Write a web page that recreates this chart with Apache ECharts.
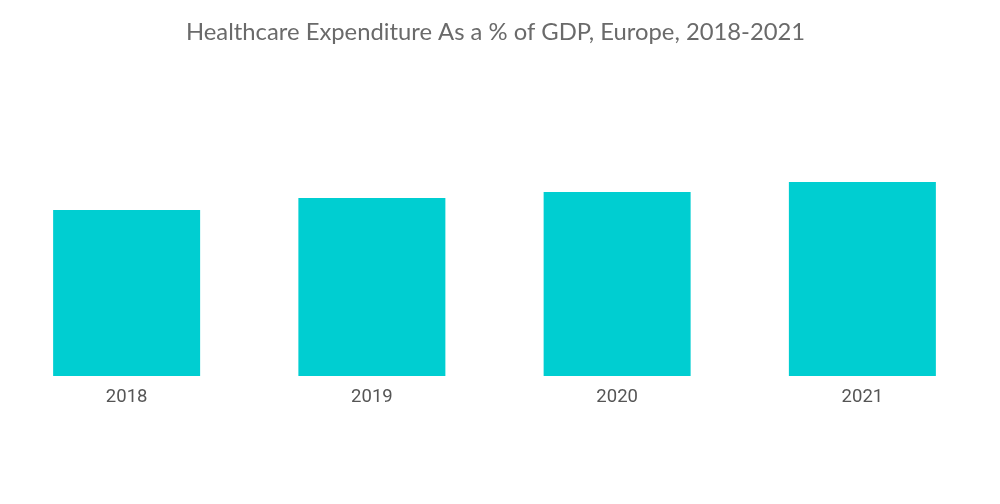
<!DOCTYPE html>
<html lang="en">
<head>
    <meta charset="UTF-8">
    <title>Healthcare Expenditure</title>
    <style>
        html, body { margin: 0; padding: 0; background: #fff; }
        #main { width: 1000px; height: 504px; }
    </style>
</head>
<body>
<div id="main"></div>
<script src="https://cdn.jsdelivr.net/npm/echarts@6/dist/echarts.min.js"></script>
<script>
    // data (values in % of GDP, estimated)
    var years = ['2018', '2019', '2020', '2021'];
    var spend = [8.3, 8.9, 9.2, 9.7];

    var chart = echarts.init(document.getElementById('main'));
    chart.setOption({
        title: {
            text: 'Healthcare Expenditure As a % of GDP, Europe, 2018-2021',
            left: 181,
            top: 15,
            textStyle: { fontFamily: 'Lato', fontWeight: 'normal', fontSize: 23.8, color: '#6a6a6a' }
        },
        grid: { left: 4, right: 15, top: 136, bottom: 128 },
        xAxis: {
            type: 'category',
            data: years,
            axisLine: { show: false },
            axisTick: { show: false },
            axisLabel: { margin: 12, fontFamily: 'Roboto', fontSize: 18.5, color: '#555' }
        },
        yAxis: {
            type: 'value',
            min: 0,
            max: 12,
            show: false,
            splitLine: { show: false }
        },
        series: [{
            type: 'bar',
            data: spend,
            barWidth: 147,
            itemStyle: { color: '#00CED1' }
        }]
    });
</script>
</body>
</html>
